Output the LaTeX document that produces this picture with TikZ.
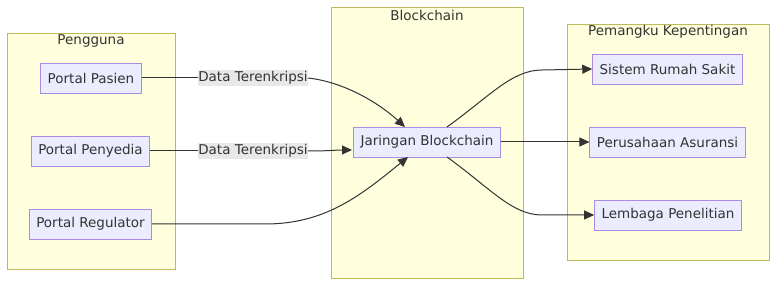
\documentclass[tikz,border=0pt]{standalone}
\usepackage{fontspec}
\setmainfont{DejaVu Sans}
\usepackage{xcolor}
\usetikzlibrary{arrows.meta}
\definecolor{clfill}{HTML}{FFFFDE}
\definecolor{cldraw}{HTML}{AAAA33}
\definecolor{ndfill}{HTML}{ECECFF}
\definecolor{nddraw}{HTML}{9370DB}
\definecolor{ink}{HTML}{333333}
\definecolor{lblbg}{HTML}{E8E8E8}

\tikzset{
  cluster/.style={draw=cldraw!80,fill=clfill,line width=0.8pt},
  cltitle/.style={text=ink,font=\fontsize{13.5}{16}\selectfont},
  box/.style={draw=nddraw!80,fill=ndfill,line width=0.8pt,text=ink,
    minimum height=30pt,inner xsep=7pt,inner ysep=0pt,
    font=\fontsize{13.5}{16}\selectfont},
  elabel/.style={fill=lblbg,text=ink,inner xsep=0pt,inner ysep=1.5pt,
    font=\fontsize{13.5}{16}\selectfont},
  flow/.style={draw=ink,line width=1pt,-{Triangle[length=10pt,width=9pt]}},
  plain/.style={draw=ink,line width=1pt},
}

\begin{document}
\begin{tikzpicture}[x=1pt,y=-1pt]
\useasboundingbox (0,0) rectangle (784,288);
% clusters
\draw[cluster] (7,33) rectangle (175,269);
\draw[cluster] (331,7) rectangle (523,278);
\draw[cluster] (567,24) rectangle (769,260);
\node[cltitle] (tuser) at (91,41) {Pengguna};
\node[cltitle] (tchain) at (427,15) {Blockchain};
\node[cltitle] (tstake) at (668,32) {Pemangku Kepentingan};
% nodes
\node[box] (pasien) at (91,78) {Portal Pasien};
\node[box] (penyedia) at (90.5,151) {Portal Penyedia};
\node[box] (regulator) at (90.5,224) {Portal Regulator};
\node[box] (jar) at (427,142) {Jaringan Blockchain};
\node[box] (rs) at (667.5,69) {Sistem Rumah Sakit};
\node[box] (asuransi) at (667.5,142) {Perusahaan Asuransi};
\node[box] (riset) at (668,215) {Lembaga Penelitian};
\node[elabel] (lbl1) at (253,78) {Data Terenkripsi};
\node[elabel] (lbl2) at (253,151) {Data Terenkripsi};
% attach points
\coordinate (in1) at (405,127);
\coordinate (in2) at (352,150);
\coordinate (in3) at (408,157);
\coordinate (out1) at (447,127);
\coordinate (out3) at (447,157);
% edges in
\draw[plain] (pasien) -- (lbl1);
\draw[flow] (lbl1.east) .. controls (345,82) and (380,104) .. (in1);
\draw[plain] (penyedia) -- (lbl2);
\draw[flow] (lbl2.east) .. controls (330,151) and (335,150) .. (in2);
\draw[flow] (regulator.east) -- (265,224) .. controls (325,224) and (360,196) .. (in3);
% edges out
\draw[flow] (out1) .. controls (490,96) and (512,70) .. (542,70) -- (rs.west);
\draw[flow] (jar.east) -- (asuransi.west);
\draw[flow] (out3) .. controls (490,188) and (512,215) .. (542,215) -- (riset.west);
\end{tikzpicture}
\end{document}
